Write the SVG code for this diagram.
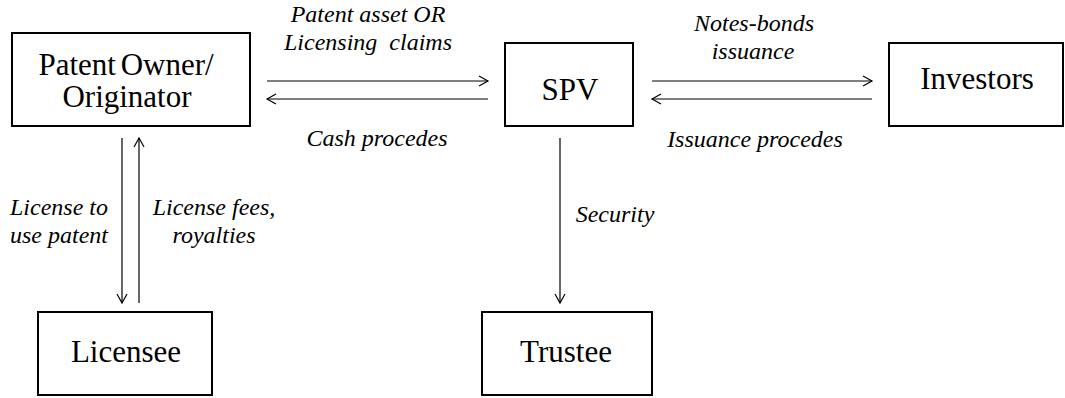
<svg xmlns="http://www.w3.org/2000/svg" width="1065" height="398" viewBox="0 0 1065 398" font-family="Liberation Serif, Times New Roman, serif">
<style>
.box{fill:#fff;stroke:#000;stroke-width:2}
.main{font-size:31px;fill:#000;text-anchor:middle}
.lbl{font-size:24px;font-style:italic;fill:#000;text-anchor:middle;white-space:pre}
.conn{stroke:#000;stroke-width:1.2;fill:none;marker-end:url(#arr)}
</style>
<defs>
<marker id="arr" markerWidth="12" markerHeight="12" refX="10" refY="6" orient="auto" markerUnits="userSpaceOnUse">
<path d="M1,1 L10,6 L1,11" fill="none" stroke="#000" stroke-width="1.2"/>
</marker>
</defs>
<rect width="1065" height="398" fill="#fff"/>
<g id="connectors">
<line class="conn" x1="267" y1="81" x2="488" y2="81"/>
<line class="conn" x1="488" y1="99" x2="267" y2="99"/>
<line class="conn" x1="652" y1="81" x2="872" y2="81"/>
<line class="conn" x1="872" y1="99" x2="652" y2="99"/>
<line class="conn" x1="122" y1="138" x2="122" y2="303"/>
<line class="conn" x1="139" y1="303" x2="139" y2="138"/>
<line class="conn" x1="560" y1="138" x2="560" y2="303"/>
</g>
<g id="labels" font-family="Liberation Serif">
<text class="lbl" x="368" y="22">Patent asset OR</text>
<text class="lbl" x="368" y="50">Licensing  claims</text>
<text class="lbl" x="377" y="146">Cash procedes</text>
<text class="lbl" x="754" y="31">Notes-bonds</text>
<text class="lbl" x="753" y="59">issuance</text>
<text class="lbl" x="755" y="147">Issuance procedes</text>
<text class="lbl" x="59" y="215">License to</text>
<text class="lbl" x="59" y="243">use patent</text>
<text class="lbl" x="214" y="215">License fees,</text>
<text class="lbl" x="214" y="243">royalties</text>
<text class="lbl" x="615" y="222">Security</text>
</g>
<g id="node-originator">
<rect class="box" x="12" y="33" width="238" height="93"/>
<text class="main" x="126" y="75" word-spacing="-3">Patent Owner/</text>
<text class="main" x="127" y="107">Originator</text>
</g>
<g id="node-spv">
<rect class="box" x="505" y="43" width="128" height="83"/>
<text class="main" x="570" y="100">SPV</text>
</g>
<g id="node-investors">
<rect class="box" x="889" y="43" width="174" height="83"/>
<text class="main" x="977" y="89">Investors</text>
</g>
<g id="node-licensee">
<rect class="box" x="38" y="312" width="174" height="83"/>
<text class="main" x="126" y="362">Licensee</text>
</g>
<g id="node-trustee">
<rect class="box" x="482" y="312" width="170" height="83"/>
<text class="main" x="566" y="362">Trustee</text>
</g>
</svg>
